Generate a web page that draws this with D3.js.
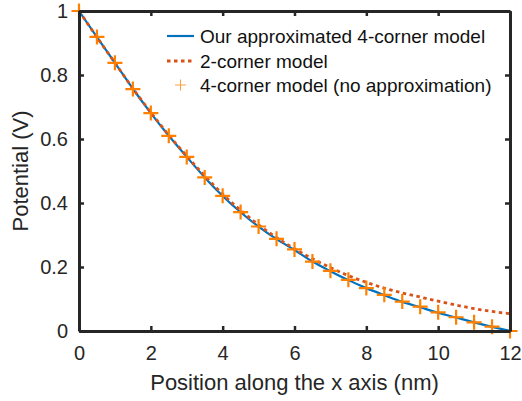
<!DOCTYPE html>
<html>
<head>
<meta charset="utf-8">
<script src="https://cdn.jsdelivr.net/npm/d3@7.9.0/dist/d3.min.js"></script>
<style>
  html, body { margin: 0; padding: 0; background: #fff; }
  svg { display: block; font-family: "Liberation Sans", Arial, sans-serif; }
</style>
</head>
<body>
<svg id="chart" width="522" height="401"></svg>
<script>
// positions along x (nm)
const xPos = [0, 0.5, 1, 1.5, 2, 2.5, 3, 3.5, 4, 4.5, 5, 5.5, 6, 6.5, 7, 7.5, 8, 8.5, 9, 9.5, 10, 10.5, 11, 11.5, 12];

// our approximated 4-corner model (solid blue)
const approx4 = [1, 0.918, 0.838, 0.757, 0.681, 0.610, 0.544, 0.480, 0.422, 0.371, 0.326, 0.287, 0.253, 0.217, 0.187, 0.159, 0.134, 0.112, 0.091, 0.074, 0.057, 0.042, 0.027, 0.013, 0];

// 2-corner model (dotted)
const corner2 = [1, 0.918, 0.838, 0.758, 0.683, 0.612, 0.547, 0.485, 0.428, 0.377, 0.332, 0.292, 0.257, 0.226, 0.198, 0.173, 0.152, 0.134, 0.119, 0.106, 0.093, 0.081, 0.070, 0.061, 0.054];

// 4-corner model, no approximation (markers)
const exact4 = [1, 0.919, 0.838, 0.756, 0.681, 0.610, 0.544, 0.480, 0.4225, 0.3715, 0.3265, 0.288, 0.255, 0.217, 0.188, 0.160, 0.134, 0.113, 0.092, 0.076, 0.0585, 0.043, 0.027, 0.0135, 0];

const xTicks = [0, 2, 4, 6, 8, 10, 12];
const yTicks = [0, 0.2, 0.4, 0.6, 0.8, 1];

const legendLabels = [
  'Our approximated 4-corner model',
  '2-corner model',
  '4-corner model (no approximation)'
];

const blue = '#0072bd';
const red = '#d95319';
const orange = '#ff8000';
const ink = '#262626';

const W = 522, H = 401;
const margin = { top: 11, right: 12, bottom: 70, left: 79 };

const svg = d3.select('#chart');
svg.append('rect').attr('width', W).attr('height', H).attr('fill', '#fff');

const x = d3.scaleLinear().domain([0, 12]).range([margin.left, W - margin.right]);
const y = d3.scaleLinear().domain([0, 1]).range([H - margin.bottom, margin.top]);

// lines
const line = (vals) => d3.line()
  .x((d, i) => x(xPos[i]))
  .y((d) => y(d))
  .curve(d3.curveMonotoneX)(vals);

svg.append('path')
  .attr('d', line(approx4))
  .attr('fill', 'none')
  .attr('stroke', blue)
  .attr('stroke-width', 2.2);

svg.append('path')
  .attr('d', line(corner2))
  .attr('fill', 'none')
  .attr('stroke', red)
  .attr('stroke-width', 2.8)
  .attr('stroke-dasharray', '3.5,3.5');

// plus markers
const plus = (s) => `M${-s},0H${s}M0,${-s}V${s}`;
svg.append('g')
  .selectAll('path')
  .data(exact4)
  .join('path')
  .attr('transform', (d, i) => `translate(${x(xPos[i])},${y(d)})`)
  .attr('d', plus(7.5))
  .attr('stroke', orange)
  .attr('stroke-width', 2.2);

// axes box with inward ticks
const xAxisB = d3.axisBottom(x).tickValues(xTicks).tickSizeInner(-5).tickSizeOuter(0).tickPadding(15);
const xAxisT = d3.axisTop(x).tickValues(xTicks).tickSizeInner(-5).tickSizeOuter(0).tickFormat('');
const yAxisL = d3.axisLeft(y).tickValues(yTicks).tickSizeInner(-5).tickSizeOuter(0).tickPadding(11).tickFormat(d3.format('~g'));
const yAxisR = d3.axisRight(y).tickValues(yTicks).tickSizeInner(-5).tickSizeOuter(0).tickFormat('');

const styleAxis = (g) => {
  g.select('.domain').attr('stroke', ink).attr('stroke-width', 3);
  g.selectAll('.tick line').attr('stroke', ink).attr('stroke-width', 2.5);
  g.selectAll('.tick text').attr('fill', ink).attr('font-size', 20).attr('font-family', null);
};

svg.append('g').attr('transform', `translate(0,${H - margin.bottom})`).call(xAxisB).call(styleAxis);
svg.append('g').attr('transform', `translate(0,${margin.top})`).call(xAxisT).call(styleAxis);
svg.append('g').attr('transform', `translate(${margin.left},0)`).call(yAxisL).call(styleAxis);
svg.append('g').attr('transform', `translate(${W - margin.right},0)`).call(yAxisR).call(styleAxis);

// axis labels
svg.append('text')
  .attr('x', (margin.left + W - margin.right) / 2)
  .attr('y', 390)
  .attr('text-anchor', 'middle')
  .attr('font-size', 22)
  .attr('fill', ink)
  .text('Position along the x axis (nm)');

svg.append('text')
  .attr('transform', `translate(28,${(margin.top + H - margin.bottom) / 2}) rotate(-90)`)
  .attr('text-anchor', 'middle')
  .attr('font-size', 22)
  .attr('fill', ink)
  .text('Potential (V)');

// legend
const legend = svg.append('g');
const rowY = [36, 61, 85];
legendLabels.forEach((label, i) => {
  const g = legend.append('g').attr('transform', `translate(167,${rowY[i]})`);
  if (i === 0) {
    g.append('line').attr('x1', 0).attr('x2', 27).attr('stroke', blue).attr('stroke-width', 2.2);
  } else if (i === 1) {
    g.append('line').attr('x1', 0).attr('x2', 27).attr('stroke', red).attr('stroke-width', 2.8)
      .attr('stroke-dasharray', '3.5,3.5');
  } else {
    g.append('path').attr('transform', 'translate(13.5,0)').attr('d', plus(5.5))
      .attr('stroke', orange).attr('stroke-width', 1).attr('opacity', 0.75);
  }
  g.append('text')
    .attr('x', 33)
    .attr('dy', '0.36em')
    .attr('font-size', 19)
    .attr('fill', '#111')
    .text(label);
});
</script>
</body>
</html>
